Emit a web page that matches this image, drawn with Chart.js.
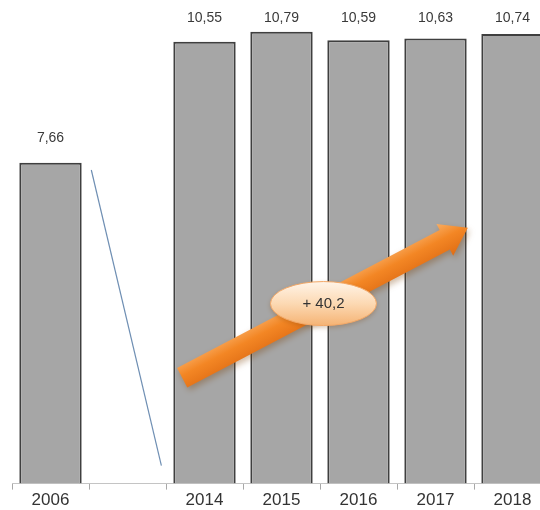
<!DOCTYPE html>
<html>
<head>
<meta charset="utf-8">
<script src="https://cdn.jsdelivr.net/npm/chart.js@4.4.0/dist/chart.umd.min.js"></script>
<style>
html,body{margin:0;padding:0;background:#fff;overflow:hidden;}
#wrap{width:556px;height:512px;position:relative;}
</style>
</head>
<body>
<div id="wrap"><canvas id="c"></canvas></div>
<script>
// ---- data ----
const categories = ['2006', '', '2014', '2015', '2016', '2017', '2018'];
const values = [7.66, null, 10.55, 10.79, 10.59, 10.63, 10.74];
// blue break line (category-index x, value y)
const breakLineX = [0.53, 1.44];
const breakLineY = [7.49, 0.43];
// growth arrow (category-index x, value y) and its label
const arrowX = [1.71, 5.42];
const arrowY = [2.53, 6.11];
const growthLabel = '+ 40,2';

const fmt = v => v.toFixed(2).replace('.', ',');

const labelPlugin = {
  id: 'labels',
  afterDatasetsDraw(chart) {
    const ctx = chart.ctx;
    const meta = chart.getDatasetMeta(0);
    ctx.save();
    ctx.font = '14px "Liberation Sans", Arial, sans-serif';
    ctx.fillStyle = '#3a3a3a';
    ctx.textAlign = 'center';
    ctx.textBaseline = 'middle';
    meta.data.forEach((el, i) => {
      const v = values[i];
      if (v == null) return;
      const y = Math.max(18, el.y - 25);
      ctx.fillText(fmt(v), el.x, y);
    });

    // arrow
    const xs = chart.scales.xl, ys = chart.scales.y;
    const x1 = xs.getPixelForValue(arrowX[0]), y1 = ys.getPixelForValue(arrowY[0]);
    const x2 = xs.getPixelForValue(arrowX[1]), y2 = ys.getPixelForValue(arrowY[1]);
    const ang = Math.atan2(y2 - y1, x2 - x1);
    const len = Math.hypot(x2 - x1, y2 - y1);
    const sw = 11, hw = 18, hl = 26;
    ctx.save();
    ctx.translate(x1, y1);
    ctx.rotate(ang);
    ctx.shadowColor = 'rgba(120,60,0,0.35)';
    ctx.shadowBlur = 6;
    ctx.shadowOffsetX = 2;
    ctx.shadowOffsetY = 3;
    const g = ctx.createLinearGradient(0, -hw, 0, hw);
    g.addColorStop(0, '#f9ad62');
    g.addColorStop(0.45, '#f38624');
    g.addColorStop(1, '#e06d14');
    ctx.fillStyle = g;
    ctx.beginPath();
    ctx.moveTo(0, -sw);
    ctx.lineTo(len - hl, -sw);
    ctx.lineTo(len - hl, -hw);
    ctx.lineTo(len, 0);
    ctx.lineTo(len - hl, hw);
    ctx.lineTo(len - hl, sw);
    ctx.lineTo(0, sw);
    ctx.closePath();
    ctx.fill();
    ctx.restore();

    // ellipse label
    const mx = xs.getPixelForValue((arrowX[0] + arrowX[1]) / 2 - 0.02);
    const my = ys.getPixelForValue((arrowY[0] + arrowY[1]) / 2 - 0.02);
    ctx.save();
    ctx.shadowColor = 'rgba(120,60,0,0.3)';
    ctx.shadowBlur = 5;
    ctx.shadowOffsetY = 2;
    const eg = ctx.createLinearGradient(0, my - 22, 0, my + 22);
    eg.addColorStop(0, '#fff4e8');
    eg.addColorStop(0.5, '#fcd9b3');
    eg.addColorStop(1, '#f5b374');
    ctx.fillStyle = eg;
    ctx.beginPath();
    ctx.ellipse(mx, my, 53, 22, 0, 0, Math.PI * 2);
    ctx.fill();
    ctx.restore();
    ctx.strokeStyle = '#f3a867';
    ctx.lineWidth = 1;
    ctx.beginPath();
    ctx.ellipse(mx, my, 53, 22, 0, 0, Math.PI * 2);
    ctx.stroke();
    ctx.fillStyle = '#333';
    ctx.font = '15px "Liberation Sans", Arial, sans-serif';
    ctx.fillText(growthLabel, mx, my);
    ctx.restore();
  }
};

new Chart(document.getElementById('c'), {
  data: {
    labels: categories,
    datasets: [
      {
        type: 'bar',
        data: values,
        backgroundColor: '#a6a6a6',
        borderColor: '#3f3f3f',
        borderWidth: {top: 2, left: 2, right: 2, bottom: 0},
        borderSkipped: 'bottom',
        barPercentage: 0.81,
        categoryPercentage: 1,
        grouped: false,
        xAxisID: 'x',
        order: 2
      },
      {
        type: 'line',
        data: breakLineX.map((x, i) => ({x, y: breakLineY[i]})),
        borderColor: '#6f8fb3',
        borderWidth: 1.2,
        pointRadius: 0,
        fill: false,
        xAxisID: 'xl',
        order: 1
      }
    ]
  },
  options: {
    responsive: true,
    maintainAspectRatio: false,
    animation: false,
    layout: {padding: {left: 12, right: 5, top: 0, bottom: 0}},
    plugins: {legend: {display: false}, tooltip: {enabled: false}},
    scales: {
      x: {
        type: 'category',
        offset: true,
        grid: {offset: true, drawOnChartArea: false, tickLength: 6, color: '#a8a8a8'},
        border: {color: '#c4c4c4', width: 1},
        ticks: {color: '#333', font: {family: '"Liberation Sans", Arial, sans-serif', size: 17}, padding: 1, maxRotation: 0}
      },
      xl: {
        type: 'linear',
        display: false,
        min: -0.5,
        max: 6.5
      },
      y: {
        min: 0,
        max: 11.55,
        display: false
      }
    }
  },
  plugins: [labelPlugin]
});
</script>
</body>
</html>
